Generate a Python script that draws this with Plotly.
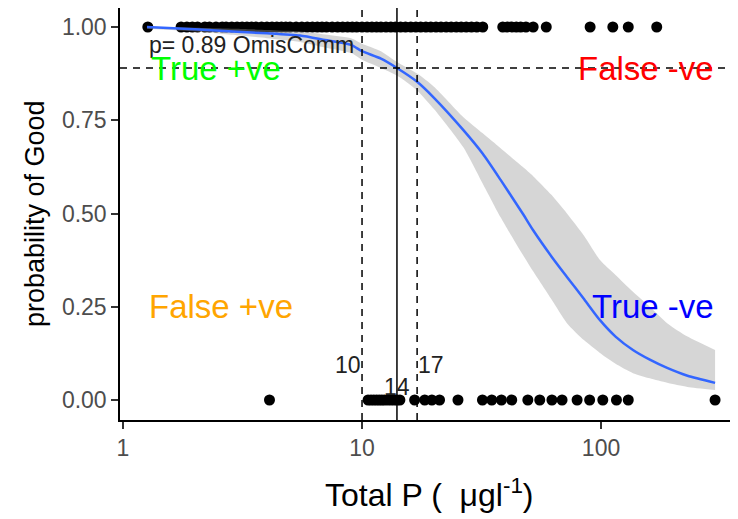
import plotly.graph_objects as go

# Observations (Total P, outcome)
good_x = [1.27, 1.75, 1.85, 1.95, 2.05, 2.2, 2.3, 2.45, 2.6, 2.7, 2.85, 3.0, 3.15, 3.3,
          3.45, 3.6, 3.8, 4.0, 4.2, 4.4, 4.6, 4.8, 5.0, 5.3, 5.6, 5.9, 6.2, 6.5, 6.8, 7.1,
          7.5, 7.9, 8.3, 8.7, 9.1, 9.5, 10, 10.5, 11, 11.5, 12, 12.6, 13.2, 13.8, 14.5,
          15.2, 16, 16.8, 17.6, 18.5, 19.4, 20.4, 21.4, 22.5, 23.6, 24.8, 26, 27.3, 28.7,
          30.2, 32, 38.8, 40.5, 42.3, 44.2, 46.1, 48.5, 52, 59, 90, 112, 130, 171]
good_y = [1] * len(good_x)

bad_x = [4.1, 10.6, 10.9, 11.2, 11.5, 11.8, 12.1, 12.4, 12.8, 13.2, 13.6, 14.0, 14.4,
         16.6, 18.3, 19.6, 21.1, 25.2, 31.9, 34.9, 38.3, 42.3, 49.4, 55.4, 62.3, 68.7,
         79.4, 89.6, 101.7, 116, 130, 300]
bad_y = [0] * len(bad_x)

# Fitted logistic curve with confidence band
curve_x = [1.26, 2, 3, 4, 5.5, 7, 9, 10, 12, 14, 17, 20, 26.5, 32, 38, 47, 52, 62, 72,
           85, 99, 115, 136, 160, 189, 230, 300]
curve_p = [1.0, 0.994, 0.987, 0.983, 0.977, 0.965, 0.952, 0.935, 0.915, 0.89, 0.853,
           0.81, 0.724, 0.66, 0.59, 0.50, 0.455, 0.385, 0.33, 0.27, 0.214, 0.17, 0.134,
           0.108, 0.086, 0.065, 0.046]
band_hi = [1.0, 0.998, 0.995, 0.992, 0.988, 0.98, 0.97, 0.955, 0.935, 0.906, 0.875,
           0.84, 0.759, 0.715, 0.675, 0.625, 0.60, 0.55, 0.50, 0.44, 0.375, 0.335, 0.29,
           0.25, 0.206, 0.17, 0.134]
band_lo = [0.995, 0.988, 0.978, 0.97, 0.96, 0.945, 0.93, 0.912, 0.89, 0.87, 0.83, 0.78,
           0.678, 0.58, 0.49, 0.39, 0.345, 0.27, 0.206, 0.16, 0.126, 0.097, 0.072, 0.058,
           0.046, 0.035, 0.027]

# Thresholds
p_cut = 0.89
x_lo, x_mid, x_hi = 10, 14, 17

y_ticks = [0, 0.25, 0.5, 0.75, 1.0]
x_ticks = [1, 10, 100]

fig = go.Figure()

fig.add_trace(go.Scatter(x=good_x + bad_x, y=good_y + bad_y, mode="markers",
                         marker=dict(color="black", size=11, line=dict(width=0)),
                         hoverinfo="skip"))
fig.add_trace(go.Scatter(x=curve_x, y=band_lo, mode="lines",
                         line=dict(width=0, shape="spline", smoothing=0.6),
                         hoverinfo="skip"))
fig.add_trace(go.Scatter(x=curve_x, y=band_hi, mode="lines", fill="tonexty",
                         fillcolor="rgba(153,153,153,0.4)",
                         line=dict(width=0, shape="spline", smoothing=0.6),
                         hoverinfo="skip"))
fig.add_trace(go.Scatter(x=curve_x, y=curve_p, mode="lines",
                         line=dict(color="#3366FF", width=2.5, shape="spline",
                                   smoothing=0.6),
                         hoverinfo="skip"))

dash = "7px,6px"
fig.add_shape(type="line", xref="paper", x0=0, x1=1, yref="y", y0=p_cut, y1=p_cut,
              line=dict(color="black", width=1.5, dash=dash))
for xv, d in [(x_lo, dash), (x_hi, dash), (x_mid, "solid")]:
    fig.add_shape(type="line", xref="x", x0=xv, x1=xv, yref="paper", y0=0, y1=1,
                  line=dict(color="black", width=1.5, dash=d))

font = "Liberation Sans, Arial, sans-serif"
ann = [
    dict(x=0.104, y=0.952, text="p= 0.89 OmisComm", xanchor="left",
         font=dict(size=23, color="#222222")),
    dict(x=0.114, y=p_cut, text="True +ve", xanchor="left",
         font=dict(size=33, color="#00FF00")),
    dict(x=2.477, y=p_cut, text="False -ve", xanchor="right",
         font=dict(size=33, color="#FF0000")),
    dict(x=0.104, y=0.25, text="False +ve", xanchor="left",
         font=dict(size=33, color="#FFA500")),
    dict(x=2.477, y=0.25, text="True -ve", xanchor="right",
         font=dict(size=33, color="#0000FF")),
    dict(x=1.0, y=0.094, text="10", xanchor="right",
         font=dict(size=23, color="#222222")),
    dict(x=1.2304, y=0.094, text="17", xanchor="left",
         font=dict(size=23, color="#222222")),
    dict(x=1.1461, y=0.035, text="14", xanchor="center",
         font=dict(size=23, color="#222222")),
]
for a in ann:
    fig.add_annotation(xref="x", yref="y", showarrow=False, yanchor="middle",
                       borderpad=0, **a)

fig.add_annotation(xref="paper", yref="paper", x=0.5, y=-0.177, yanchor="middle",
                   showarrow=False, text="Total P (  μgl<sup>-1</sup>)",
                   font=dict(size=32, color="black"))
fig.add_annotation(xref="paper", yref="paper", x=-0.1375, y=0.5, xanchor="center",
                   yanchor="middle", textangle=-90, showarrow=False,
                   text="probability of Good", font=dict(size=27, color="black"))

fig.update_layout(
    width=738, height=519,
    margin=dict(l=112, r=8, t=0, b=107),
    paper_bgcolor="white", plot_bgcolor="white",
    showlegend=False,
    font=dict(family=font),
)
fig.update_xaxes(type="log", range=[-0.0126, 2.573], tickvals=x_ticks,
                 ticktext=[str(v) for v in x_ticks], showgrid=False, zeroline=False,
                 showline=True, linecolor="black", linewidth=1.5,
                 ticks="outside", ticklen=7, tickcolor="#333333", tickwidth=1.5,
                 tickfont=dict(size=23, color="#4D4D4D"))
fig.update_yaxes(range=[-0.0536, 1.0509], tickvals=y_ticks,
                 ticktext=["%.2f" % v for v in y_ticks], showgrid=False, zeroline=False,
                 showline=True, linecolor="black", linewidth=1.5,
                 ticks="outside", ticklen=7, tickcolor="#333333", tickwidth=1.5,
                 tickfont=dict(size=23, color="#4D4D4D"))

fig.write_html("out.html")
